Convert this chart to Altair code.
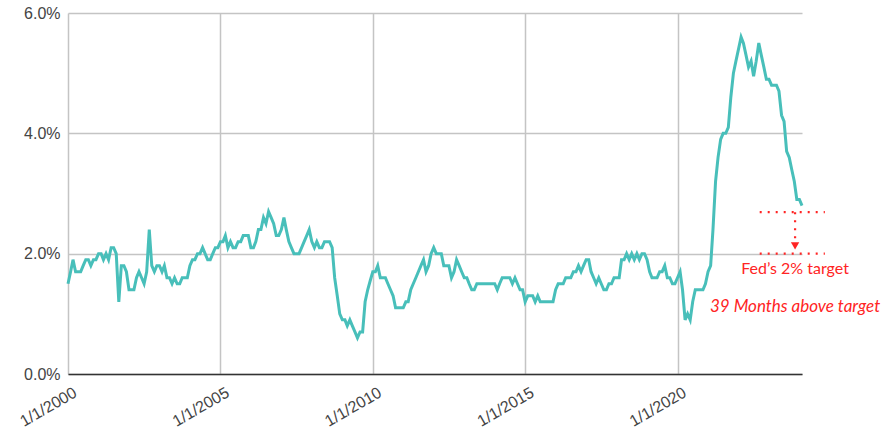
import altair as alt
import pandas as pd

# Monthly year-over-year inflation (%)
v2000 = [1.5, 1.7, 1.9, 1.7, 1.7, 1.7, 1.8, 1.9, 1.9, 1.8, 1.9, 1.9]
v2001 = [2.0, 2.0, 1.9, 2.0, 1.9, 2.1, 2.1, 2.0, 1.2, 1.8, 1.8, 1.7]
v2002 = [1.4, 1.4, 1.4, 1.6, 1.7, 1.6, 1.5, 1.7, 2.4, 1.8, 1.7, 1.8]
v2003 = [1.8, 1.7, 1.8, 1.6, 1.6, 1.5, 1.6, 1.5, 1.5, 1.6, 1.6, 1.6]
v2004 = [1.8, 1.9, 1.9, 2.0, 2.0, 2.1, 2.0, 1.9, 1.9, 2.0, 2.1, 2.1]
v2005 = [2.2, 2.2, 2.3, 2.1, 2.2, 2.1, 2.1, 2.2, 2.2, 2.3, 2.3, 2.3]
v2006 = [2.1, 2.1, 2.2, 2.4, 2.4, 2.6, 2.5, 2.7, 2.6, 2.5, 2.3, 2.3]
v2007 = [2.4, 2.6, 2.4, 2.2, 2.1, 2.0, 2.0, 2.0, 2.1, 2.2, 2.3, 2.4]
v2008 = [2.2, 2.1, 2.2, 2.1, 2.1, 2.2, 2.2, 2.2, 2.1, 1.6, 1.3, 1.0]
v2009 = [0.9, 0.9, 0.8, 0.9, 0.8, 0.7, 0.6, 0.7, 0.7, 1.2, 1.4, 1.55]
v2010 = [1.7, 1.7, 1.8, 1.6, 1.6, 1.6, 1.5, 1.4, 1.3, 1.1, 1.1, 1.1]
v2011 = [1.1, 1.2, 1.2, 1.4, 1.5, 1.6, 1.7, 1.8, 1.9, 1.7, 1.8, 2.0]
v2012 = [2.1, 2.0, 2.0, 2.0, 1.8, 1.8, 1.8, 1.6, 1.7, 1.9, 1.8, 1.7]
v2013 = [1.6, 1.6, 1.5, 1.4, 1.4, 1.5, 1.5, 1.5, 1.5, 1.5, 1.5, 1.5]
v2014 = [1.5, 1.4, 1.5, 1.6, 1.6, 1.6, 1.6, 1.5, 1.6, 1.5, 1.4, 1.4]
v2015 = [1.2, 1.3, 1.3, 1.3, 1.2, 1.3, 1.2, 1.2, 1.2, 1.2, 1.2, 1.2]
v2016 = [1.4, 1.5, 1.5, 1.5, 1.6, 1.6, 1.6, 1.7, 1.7, 1.8, 1.7, 1.8]
v2017 = [1.9, 1.9, 1.7, 1.6, 1.5, 1.6, 1.5, 1.4, 1.4, 1.5, 1.5, 1.6]
v2018 = [1.6, 1.6, 1.9, 1.9, 2.0, 1.9, 2.0, 1.9, 2.0, 1.9, 2.0, 2.0]
v2019 = [1.9, 1.7, 1.6, 1.6, 1.6, 1.7, 1.7, 1.8, 1.6, 1.6, 1.5, 1.5]
v2020 = [1.6, 1.7, 1.4, 0.9, 1.0, 0.9, 1.2, 1.4, 1.4, 1.4, 1.4, 1.5]
v2021 = [1.7, 1.8, 2.4, 3.2, 3.6, 3.9, 4.0, 4.0, 4.1, 4.6, 5.0, 5.2]
v2022 = [5.4, 5.6, 5.5, 5.3, 5.1, 5.2, 4.95, 5.2, 5.5, 5.3, 5.1, 4.9]
v2023 = [4.9, 4.8, 4.8, 4.8, 4.7, 4.3, 4.2, 3.7, 3.6, 3.4, 3.2, 2.9]
v2024 = [2.9, 2.8]

years = [v2000, v2001, v2002, v2003, v2004, v2005, v2006, v2007, v2008,
         v2009, v2010, v2011, v2012, v2013, v2014, v2015, v2016, v2017,
         v2018, v2019, v2020, v2021, v2022, v2023, v2024]
values = [v for yr in years for v in yr]

tick_years = [2000, 2005, 2010, 2015, 2020]
y_ticks = [0, 2, 4, 6]

# Annotation content
target_level = 2.0
current_level = 2.69
ann_start = "2022-09-12T00:00:00"
ann_end = "2024-11-01T00:00:00"
arrow_date = "2023-11-10T00:00:00"
label_target = "Fed\u2019s 2% target"
label_months = "39 Months above target"

TEAL = "#48BFBA"
RED = "#FF2424"
GRID = "#C4C4C4"
LABEL = "#444444"

dates = pd.date_range("2000-01-01", periods=len(values), freq="MS").strftime("%Y-%m-%dT00:00:00")
df = pd.DataFrame({"date": list(dates), "pce": values})

x_scale = alt.Scale(domain=[alt.DateTime(year=2000, month=1, date=1),
                            alt.DateTime(year=2024, month=2, date=1)], nice=False)
y_scale = alt.Scale(domain=[0, 6], nice=False)

line = alt.Chart(df).mark_line(color=TEAL, strokeWidth=3).encode(
    x=alt.X("date:T", scale=x_scale, title=None,
            axis=alt.Axis(values=[alt.DateTime(year=y, month=1, date=1) for y in tick_years],
                          labelExpr="'1/1/' + timeFormat(datum.value, '%Y')",
                          labelAngle=-30, labelAlign="right", labelBaseline="top",
                          labelPadding=10, labelOffset=3, labelFontSize=16,
                          labelFont="Arial, Liberation Sans", labelColor=LABEL,
                          ticks=False, grid=True, gridColor=GRID, gridWidth=1.5,
                          domain=True, domainColor="#333333", domainWidth=1.5)),
    y=alt.Y("pce:Q", scale=y_scale, title=None,
            axis=alt.Axis(values=y_ticks,
                          labelExpr="format(datum.value, '.1f') + '%'",
                          labelPadding=8, labelFontSize=16,
                          labelFont="Arial, Liberation Sans", labelColor=LABEL,
                          ticks=False, grid=True, gridColor=GRID, gridWidth=1.5,
                          domain=False)),
)

hdf = pd.DataFrame({"x": [ann_start, ann_start], "x2": [ann_end, ann_end],
                    "y": [current_level, target_level]})
hrules = alt.Chart(hdf).mark_rule(color=RED, strokeWidth=2.2, strokeDash=[2, 6]).encode(
    x=alt.X("x:T", title=None), x2="x2:T", y=alt.Y("y:Q", title=None))

vdf = pd.DataFrame({"x": [arrow_date], "y": [current_level], "y2": [2.22]})
vrule = alt.Chart(vdf).mark_rule(color=RED, strokeWidth=2.2, strokeDash=[2, 6]).encode(
    x=alt.X("x:T", title=None), y=alt.Y("y:Q", title=None), y2="y2:Q")

adf = pd.DataFrame({"x": [arrow_date], "y": [2.13]})
arrow = alt.Chart(adf).mark_point(shape="triangle-down", filled=True, size=70,
                                  color=RED, opacity=1).encode(
    x=alt.X("x:T", title=None), y=alt.Y("y:Q", title=None))

tdf = pd.DataFrame({"x": [arrow_date], "y": [1.74], "t": [label_target]})
text1 = alt.Chart(tdf).mark_text(font="Lato", fontSize=16, color=RED,
                                 align="center", baseline="middle").encode(
    x=alt.X("x:T", title=None), y=alt.Y("y:Q", title=None), text="t:N")

mdf = pd.DataFrame({"x": [arrow_date], "y": [1.11], "t": [label_months]})
text2 = alt.Chart(mdf).mark_text(font="Lato", fontSize=17, fontStyle="italic", color=RED,
                                 align="center", baseline="middle").encode(
    x=alt.X("x:T", title=None), y=alt.Y("y:Q", title=None), text="t:N")

chart = alt.layer(line, hrules, vrule, arrow, text1, text2).properties(
    width=734, height=361, autosize="none",
    padding={"left": 68, "top": 13, "right": 83, "bottom": 60},
    background="white",
).configure_view(strokeWidth=0)

chart.save("out.html", embed_options={"renderer": "svg", "actions": False})
